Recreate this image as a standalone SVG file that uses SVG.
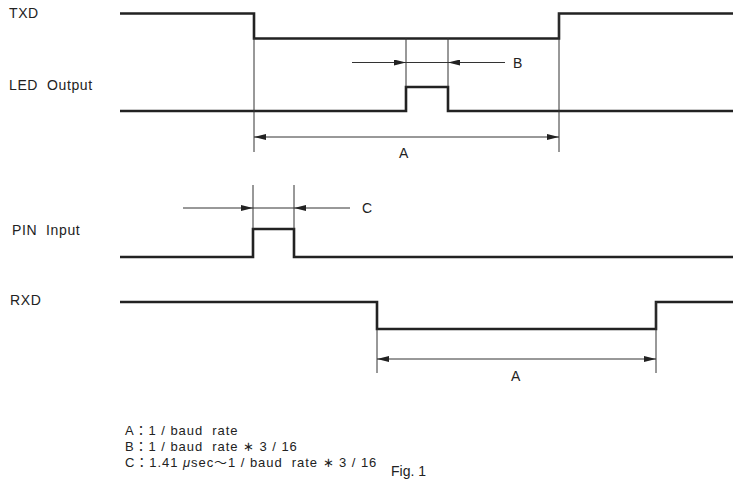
<svg xmlns="http://www.w3.org/2000/svg" width="733" height="480" viewBox="0 0 733 480">
<defs>
<marker id="ah" viewBox="0 0 12 6" refX="12" refY="3" markerWidth="12" markerHeight="6" markerUnits="userSpaceOnUse" orient="auto">
<path d="M0,0 L12,3 L0,6 z" fill="#222"/>
</marker>
<style>
.sig{fill:none;stroke:#222;stroke-width:2.6;stroke-linejoin:miter}
.thin{fill:none;stroke:#333;stroke-width:1}
.arr{fill:none;stroke:#333;stroke-width:1;marker-end:url(#ah)}
.lbl{font-family:"Liberation Sans",Arial,sans-serif;font-size:14px;fill:#222;white-space:pre}
.sp{letter-spacing:0.6px}
.note{font-family:"Liberation Sans","Noto Sans CJK JP",sans-serif;font-size:13px;letter-spacing:0.95px;fill:#222;white-space:pre}
</style>
</defs>
<rect width="733" height="480" fill="#fff"/>
<g id="labels">
<text class="lbl sp" x="9" y="18">TXD</text>
<text class="lbl sp" x="9" y="90">LED  Output</text>
<text class="lbl sp" x="12" y="235">PIN  Input</text>
<text class="lbl sp" x="10" y="305">RXD</text>
</g>
<g id="txd"><path class="sig" d="M120,13.5 H254 V38.5 H559 V13.5 H733"/></g>
<g id="led"><path class="sig" d="M120,111 H406 V87 H448 V111 H733"/></g>
<g id="pin"><path class="sig" d="M120,257 H253 V229 H294 V257 H733"/></g>
<g id="rxd"><path class="sig" d="M120,302 H377 V329 H656 V302 H733"/></g>
<g id="connectors">
<line class="thin" x1="254" y1="38" x2="254" y2="152"/>
<line class="thin" x1="559" y1="13" x2="559" y2="152"/>
<line class="thin" x1="406" y1="38" x2="406" y2="87"/>
<line class="thin" x1="448" y1="38" x2="448" y2="87"/>
<line class="thin" x1="406" y1="62.5" x2="448" y2="62.5"/>
<line class="arr" x1="352" y1="62.5" x2="406" y2="62.5"/>
<line class="arr" x1="505" y1="62.5" x2="448" y2="62.5"/>
<line class="arr" x1="400" y1="137" x2="254" y2="137"/>
<line class="arr" x1="400" y1="137" x2="559" y2="137"/>
<line class="thin" x1="253" y1="185" x2="253" y2="229"/>
<line class="thin" x1="294" y1="185" x2="294" y2="229"/>
<line class="thin" x1="253" y1="208" x2="294" y2="208"/>
<line class="arr" x1="183" y1="208" x2="253" y2="208"/>
<line class="arr" x1="350" y1="208" x2="294" y2="208"/>
<line class="thin" x1="377" y1="329" x2="377" y2="373"/>
<line class="thin" x1="656" y1="302" x2="656" y2="373"/>
<line class="arr" x1="516" y1="359" x2="377" y2="359"/>
<line class="arr" x1="516" y1="359" x2="656" y2="359"/>
</g>
<g id="dim-labels">
<text class="lbl" x="513" y="67.5">B</text>
<text class="lbl" x="399" y="158">A</text>
<text class="lbl" x="362" y="213">C</text>
<text class="lbl" x="511" y="381">A</text>
</g>
<g id="notes">
<text class="note" x="125" y="435">A：1 / baud  rate</text>
<text class="note" x="125" y="451">B：1 / baud  rate ∗ 3 / 16</text>
<text class="note" x="125" y="467">C：1.41 <tspan font-style="italic">μ</tspan>sec～1 / baud  rate ∗ 3 / 16</text>
<text class="lbl" x="391" y="476" font-size="14">Fig. 1</text>
</g>
</svg>
